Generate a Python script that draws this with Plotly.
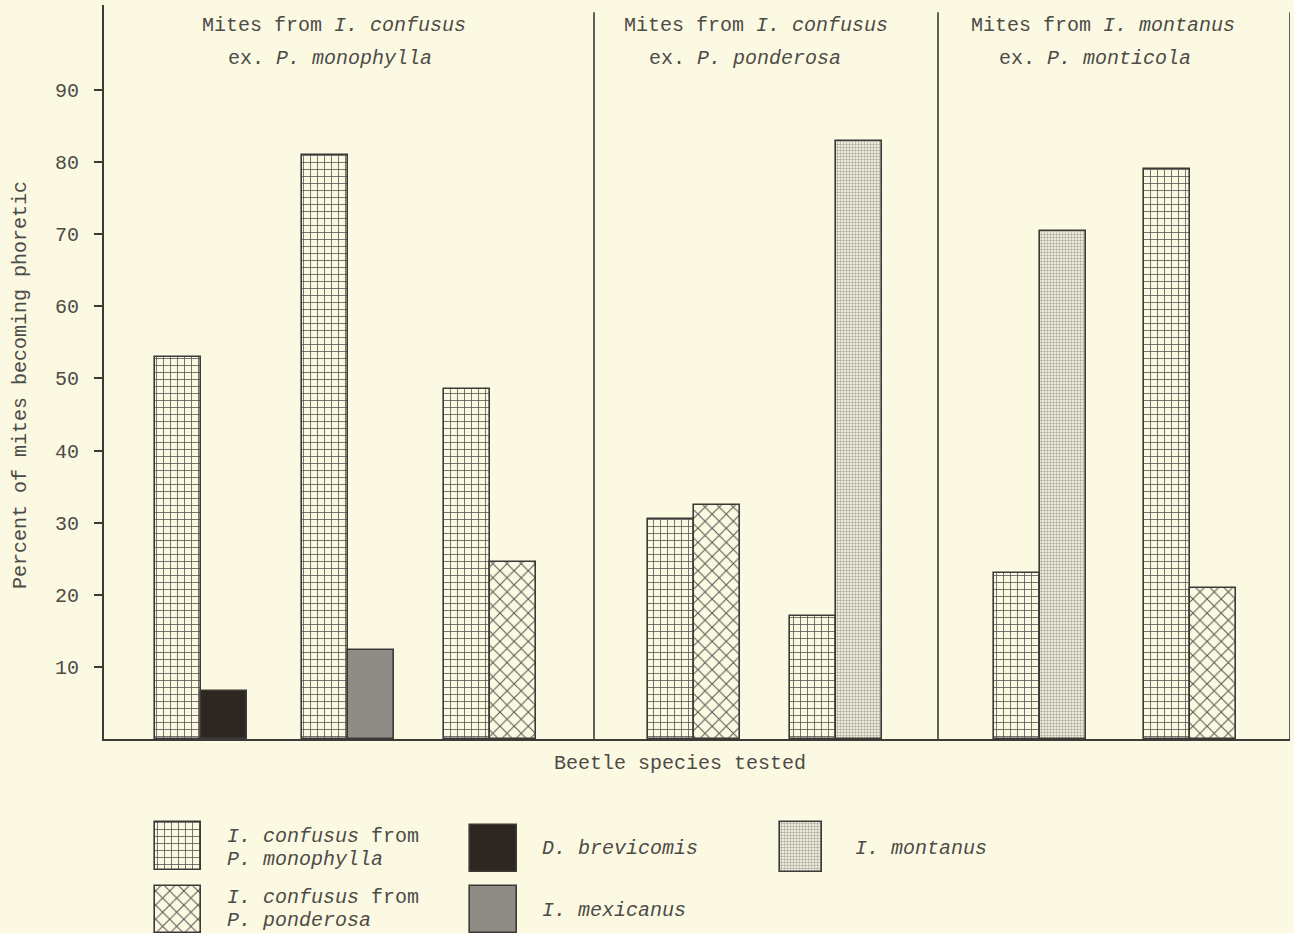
import plotly.graph_objects as go

# ---------------- data ----------------
# Seven beetle-species groups; each group shows a left bar and a right bar.
group_ids = ["G1", "G2", "G3", "G4", "G5", "G6", "G7"]

# I. confusus from P. monophylla (left bar of every group)
conf_mono_groups = ["G1", "G2", "G3", "G4", "G5", "G6", "G7"]
conf_mono_vals = [53, 81, 48.5, 30.5, 17, 23, 79]

# right bars
brevi_groups = ["G1"]
brevi_vals = [6.7]

mexi_groups = ["G2"]
mexi_vals = [12.3]

conf_pond_groups = ["G3", "G4", "G7"]
conf_pond_vals = [24.5, 32.5, 21]

mont_groups = ["G5", "G6"]
mont_vals = [83, 70.5]

y_ticks = [10, 20, 30, 40, 50, 60, 70, 80, 90]

panel_titles = [
    ("Mites from <i>I. confusus</i>", "ex. <i>P. monophylla</i>"),
    ("Mites from <i>I. confusus</i>", "ex. <i>P. ponderosa</i>"),
    ("Mites from <i>I. montanus</i>", "ex. <i>P. monticola</i>"),
]

# ---------------- layout constants ----------------
W, H = 1294, 933
BG = "#fcf9e3"
INK = "#3c3a36"
TXT = "#4d4b47"
FONT = "Liberation Mono"
FS = 20

# x positions (axis units = pixels from left axis) of each group's centre line
GROUP_POS = dict(zip(group_ids, [97, 244, 386, 590, 732, 936, 1086]))
BAR_W = 46
DIVIDERS = [490, 834, 1186]
X_RANGE = [0, 1186]
Y_RANGE = [0, 101.8]

PLOT_L, PLOT_R, PLOT_T, PLOT_B = 104, 1290, 5, 739

grid_pat = dict(shape="+", size=7, solidity=0.22, fgcolor="#5a5752", bgcolor=BG, fillmode="replace")
cross_pat = dict(shape="x", size=10, solidity=0.2, fgcolor="#5a5752", bgcolor=BG, fillmode="replace")
dot_pat = dict(shape="+", size=3, solidity=0.35, fgcolor="#a8a59c", bgcolor="#ece9d8", fillmode="replace")

series = [
    dict(name="conf_mono", groups=conf_mono_groups, vals=conf_mono_vals, side="left",
         marker=dict(color=BG, pattern=grid_pat)),
    dict(name="brevi", groups=brevi_groups, vals=brevi_vals, side="right",
         marker=dict(color="#2e2621")),
    dict(name="mexi", groups=mexi_groups, vals=mexi_vals, side="right",
         marker=dict(color="#8f8b85")),
    dict(name="conf_pond", groups=conf_pond_groups, vals=conf_pond_vals, side="right",
         marker=dict(color=BG, pattern=cross_pat)),
    dict(name="mont", groups=mont_groups, vals=mont_vals, side="right",
         marker=dict(color="#ece9d8", pattern=dot_pat)),
]

fig = go.Figure()

for s in series:
    mk = dict(s["marker"])
    mk["line"] = dict(color=INK, width=1.6)
    fig.add_trace(go.Bar(
        x=[GROUP_POS[g] for g in s["groups"]],
        y=s["vals"],
        width=BAR_W,
        offset=-BAR_W if s["side"] == "left" else 0,
        marker=mk,
        showlegend=False,
        hoverinfo="skip",
        xaxis="x", yaxis="y",
    ))

# ---------------- legend (drawn with swatch bars on a pixel-space axis) ----------------
legend_items = [
    (series[0]["marker"], 155, 201, 822, 870, ["<i>I. confusus</i> from", "<i>P. monophylla</i>"], 225, [836, 859]),
    (series[3]["marker"], 155, 201, 886, 933, ["<i>I. confusus</i> from", "<i>P. ponderosa</i>"], 225, [897, 920]),
    (series[1]["marker"], 470, 517, 825, 872, ["<i>D. brevicomis</i>"], 540, [848]),
    (series[2]["marker"], 470, 517, 886, 933, ["<i>I. mexicanus</i>"], 540, [910]),
    (series[4]["marker"], 780, 822, 822, 872, ["<i>I. montanus</i>"], 853, [848]),
]

annotations = []
for mk0, x0, x1, yt, yb, lines, tx, tys in legend_items:
    mk = dict(mk0)
    mk["line"] = dict(color=INK, width=1.6)
    fig.add_trace(go.Bar(
        x=[(x0 + x1) / 2], y=[yb - yt], base=[yt], width=x1 - x0,
        marker=mk, showlegend=False, hoverinfo="skip",
        xaxis="x2", yaxis="y2",
    ))
    for line, ty in zip(lines, tys):
        annotations.append(dict(
            x=tx, y=ty, xref="x2", yref="y2", text=line, showarrow=False,
            xanchor="left", yanchor="middle", font=dict(family=FONT, size=FS, color=TXT),
        ))

# panel titles
title_centers = [(334, 330), (756, 745), (1103, 1095)]
for (l1, l2), (c1, c2) in zip(panel_titles, title_centers):
    annotations.append(dict(x=c1, y=25, xref="x2", yref="y2", text=l1, showarrow=False,
                            xanchor="center", yanchor="middle",
                            font=dict(family=FONT, size=FS, color=TXT)))
    annotations.append(dict(x=c2, y=58, xref="x2", yref="y2", text=l2, showarrow=False,
                            xanchor="center", yanchor="middle",
                            font=dict(family=FONT, size=FS, color=TXT)))

# axis titles
annotations.append(dict(x=680, y=763, xref="x2", yref="y2", text="Beetle species tested",
                        showarrow=False, xanchor="center", yanchor="middle",
                        font=dict(family=FONT, size=FS, color=TXT)))
annotations.append(dict(x=20, y=385, xref="x2", yref="y2", text="Percent of mites becoming phoretic",
                        showarrow=False, xanchor="center", yanchor="middle", textangle=-90,
                        font=dict(family=FONT, size=FS, color=TXT)))

# panel dividers and right border
shapes = []
for d in DIVIDERS:
    shapes.append(dict(type="line", xref="x", yref="y", x0=d, x1=d, y0=0, y1=100.8,
                       line=dict(color=INK, width=1.6)))

fig.update_layout(
    width=W, height=H,
    margin=dict(l=0, r=0, t=0, b=0),
    paper_bgcolor=BG,
    plot_bgcolor="rgba(0,0,0,0)",
    barmode="overlay",
    bargap=0,
    showlegend=False,
    xaxis=dict(domain=[PLOT_L / W, PLOT_R / W], range=X_RANGE, showgrid=False, zeroline=False,
               showticklabels=False, ticks="", showline=True, linecolor=INK, linewidth=1.8,
               fixedrange=True),
    yaxis=dict(domain=[(H - PLOT_B) / H, (H - PLOT_T) / H], range=Y_RANGE, showgrid=False,
               zeroline=False, tickvals=y_ticks, ticks="outside", ticklen=8, tickwidth=1.5,
               tickcolor=INK, showline=True, linecolor=INK, linewidth=1.8,
               tickfont=dict(family=FONT, size=FS, color=TXT), ticklabelstandoff=11,
               fixedrange=True),
    xaxis2=dict(domain=[0, 1], range=[0, W], visible=False, anchor="y2", fixedrange=True),
    yaxis2=dict(domain=[0, 1], range=[H, 0], visible=False, anchor="x2", fixedrange=True),
    annotations=annotations,
    shapes=shapes,
)

fig.write_html(
    "out.html",
    config={"displayModeBar": False},
    post_script="document.body.style.margin='0';document.body.style.overflow='hidden';"
                "document.body.style.background='" + BG + "';",
)
